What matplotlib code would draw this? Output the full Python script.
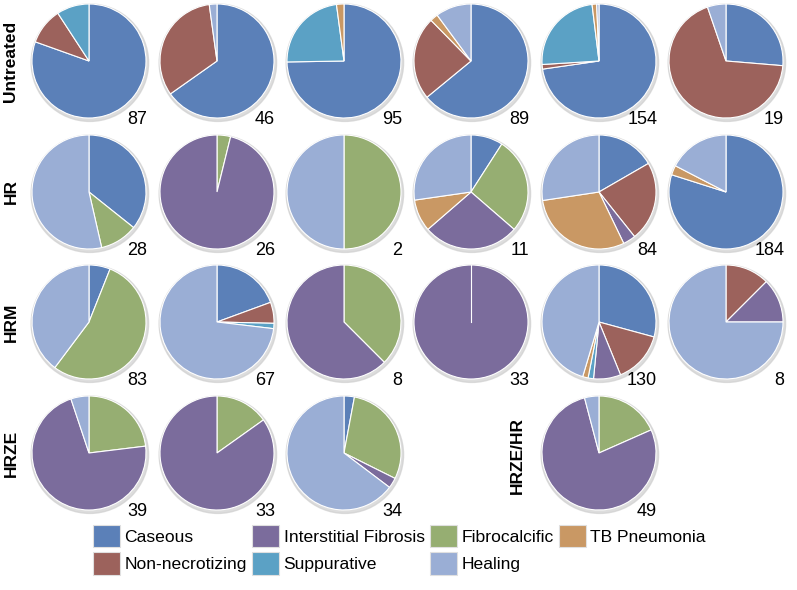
import matplotlib.pyplot as plt
from matplotlib.patches import Circle, Patch

plt.rcParams["font.family"] = ["Liberation Sans", "DejaVu Sans"]

# slice order, clockwise from 12 o'clock
categories = ["Caseous", "Non-necrotizing", "Fibrocalcific", "Interstitial Fibrosis",
              "Suppurative", "TB Pneumonia", "Healing"]
colors = ["#5b80b8", "#9c625c", "#96ae72", "#7b6c9c", "#5ba1c5", "#c99864", "#9aaed5"]

# lesion counts per animal, same order as categories
untreated = [[70, 9, 0, 0, 8, 0, 0],
             [30, 15, 0, 0, 0, 0, 1],
             [71, 0, 0, 0, 22, 2, 0],
             [57, 21, 0, 0, 0, 2, 9],
             [112, 2, 0, 0, 37, 2, 1],
             [5, 13, 0, 0, 0, 0, 1]]
hr = [[10, 0, 3, 0, 0, 0, 15],
      [0, 0, 1, 25, 0, 0, 0],
      [0, 0, 1, 0, 0, 0, 1],
      [1, 0, 3, 3, 0, 1, 3],
      [14, 19, 0, 3, 0, 25, 23],
      [147, 0, 0, 0, 0, 5, 32]]
hrm = [[5, 0, 45, 0, 0, 0, 33],
       [13, 4, 0, 0, 1, 0, 49],
       [0, 0, 3, 5, 0, 0, 0],
       [0, 0, 0, 33, 0, 0, 0],
       [38, 19, 0, 10, 2, 2, 59],
       [0, 1, 0, 1, 0, 0, 6]]
hrze = [[0, 0, 9, 28, 0, 0, 2],
        [0, 0, 5, 28, 0, 0, 0],
        [1, 0, 10, 1, 0, 0, 22]]
hrze_hr = [[0, 0, 9, 38, 0, 0, 2]]

untreated_n = [87, 46, 95, 89, 154, 19]
hr_n = [28, 26, 2, 11, 84, 184]
hrm_n = [83, 67, 8, 33, 130, 8]
hrze_n = [39, 33, 34]
hrze_hr_n = [49]

W, H = 797, 590
col_x = [89, 217, 344, 471, 599, 726]
row_y = [61, 192, 322, 453]
r = 57
pad = 1.15

fig = plt.figure(figsize=(W / 100, H / 100), dpi=100)


def draw_pie(cx, cy, counts, n):
    R = r * pad
    ax = fig.add_axes([(cx - R) / W, (H - cy - R) / H, 2 * R / W, 2 * R / H])
    vals = [v for v in counts if v > 0]
    cols = [c for v, c in zip(counts, colors) if v > 0]
    # soft shadow/rim under the pie
    ax.add_patch(Circle((0.015, -0.03), 1.03, color="#cfcfcf", alpha=0.7, zorder=0))
    ax.pie(vals, colors=cols, startangle=90, counterclock=False, radius=1,
           wedgeprops=dict(edgecolor="white", linewidth=0.8))
    if len(vals) == 1:
        # single class: the original still shows the seam at 12 o'clock
        ax.plot([0, 0], [0, 1], color="white", lw=0.8)
    ax.set_xlim(-pad, pad)
    ax.set_ylim(-pad, pad)
    ax.set_aspect("equal")
    ax.axis("off")
    ax.text(1.02, -1.1, str(n), ha="right", va="baseline", fontsize=13,
            clip_on=False)


groups = [(untreated, untreated_n), (hr, hr_n), (hrm, hrm_n), (hrze, hrze_n)]
for row, (data, ns) in enumerate(groups):
    for col, (counts, n) in enumerate(zip(data, ns)):
        draw_pie(col_x[col], row_y[row], counts, n)
draw_pie(col_x[4], row_y[3], hrze_hr[0], hrze_hr_n[0])

row_labels = ["Untreated", "HR", "HRM", "HRZE"]
for lab, y in zip(row_labels, row_y):
    fig.text(11 / W, 1 - y / H, lab, rotation=90, ha="center", va="center",
             fontsize=12.5, fontweight="bold")
fig.text(517 / W, 1 - 455 / H, "HRZE/HR", rotation=90, ha="center", va="center",
         fontsize=12.5, fontweight="bold")

# legend, filled column by column like the original
leg_order = ["Caseous", "Non-necrotizing", "Interstitial Fibrosis", "Suppurative",
             "Fibrocalcific", "Healing", "TB Pneumonia"]
handles = [Patch(facecolor=colors[categories.index(c)], edgecolor="#e0e0e0",
                 linewidth=0.8, label=c) for c in leg_order]
fig.legend(handles=handles, ncol=4, loc="upper left",
           bbox_to_anchor=(93 / W, 1 - 525 / H), frameon=False, fontsize=12.6,
           handlelength=1.55, handleheight=1.6, handletextpad=0.25,
           columnspacing=0.3, labelspacing=0.28, borderpad=0, borderaxespad=0)

fig.savefig("out.png", dpi=100)
